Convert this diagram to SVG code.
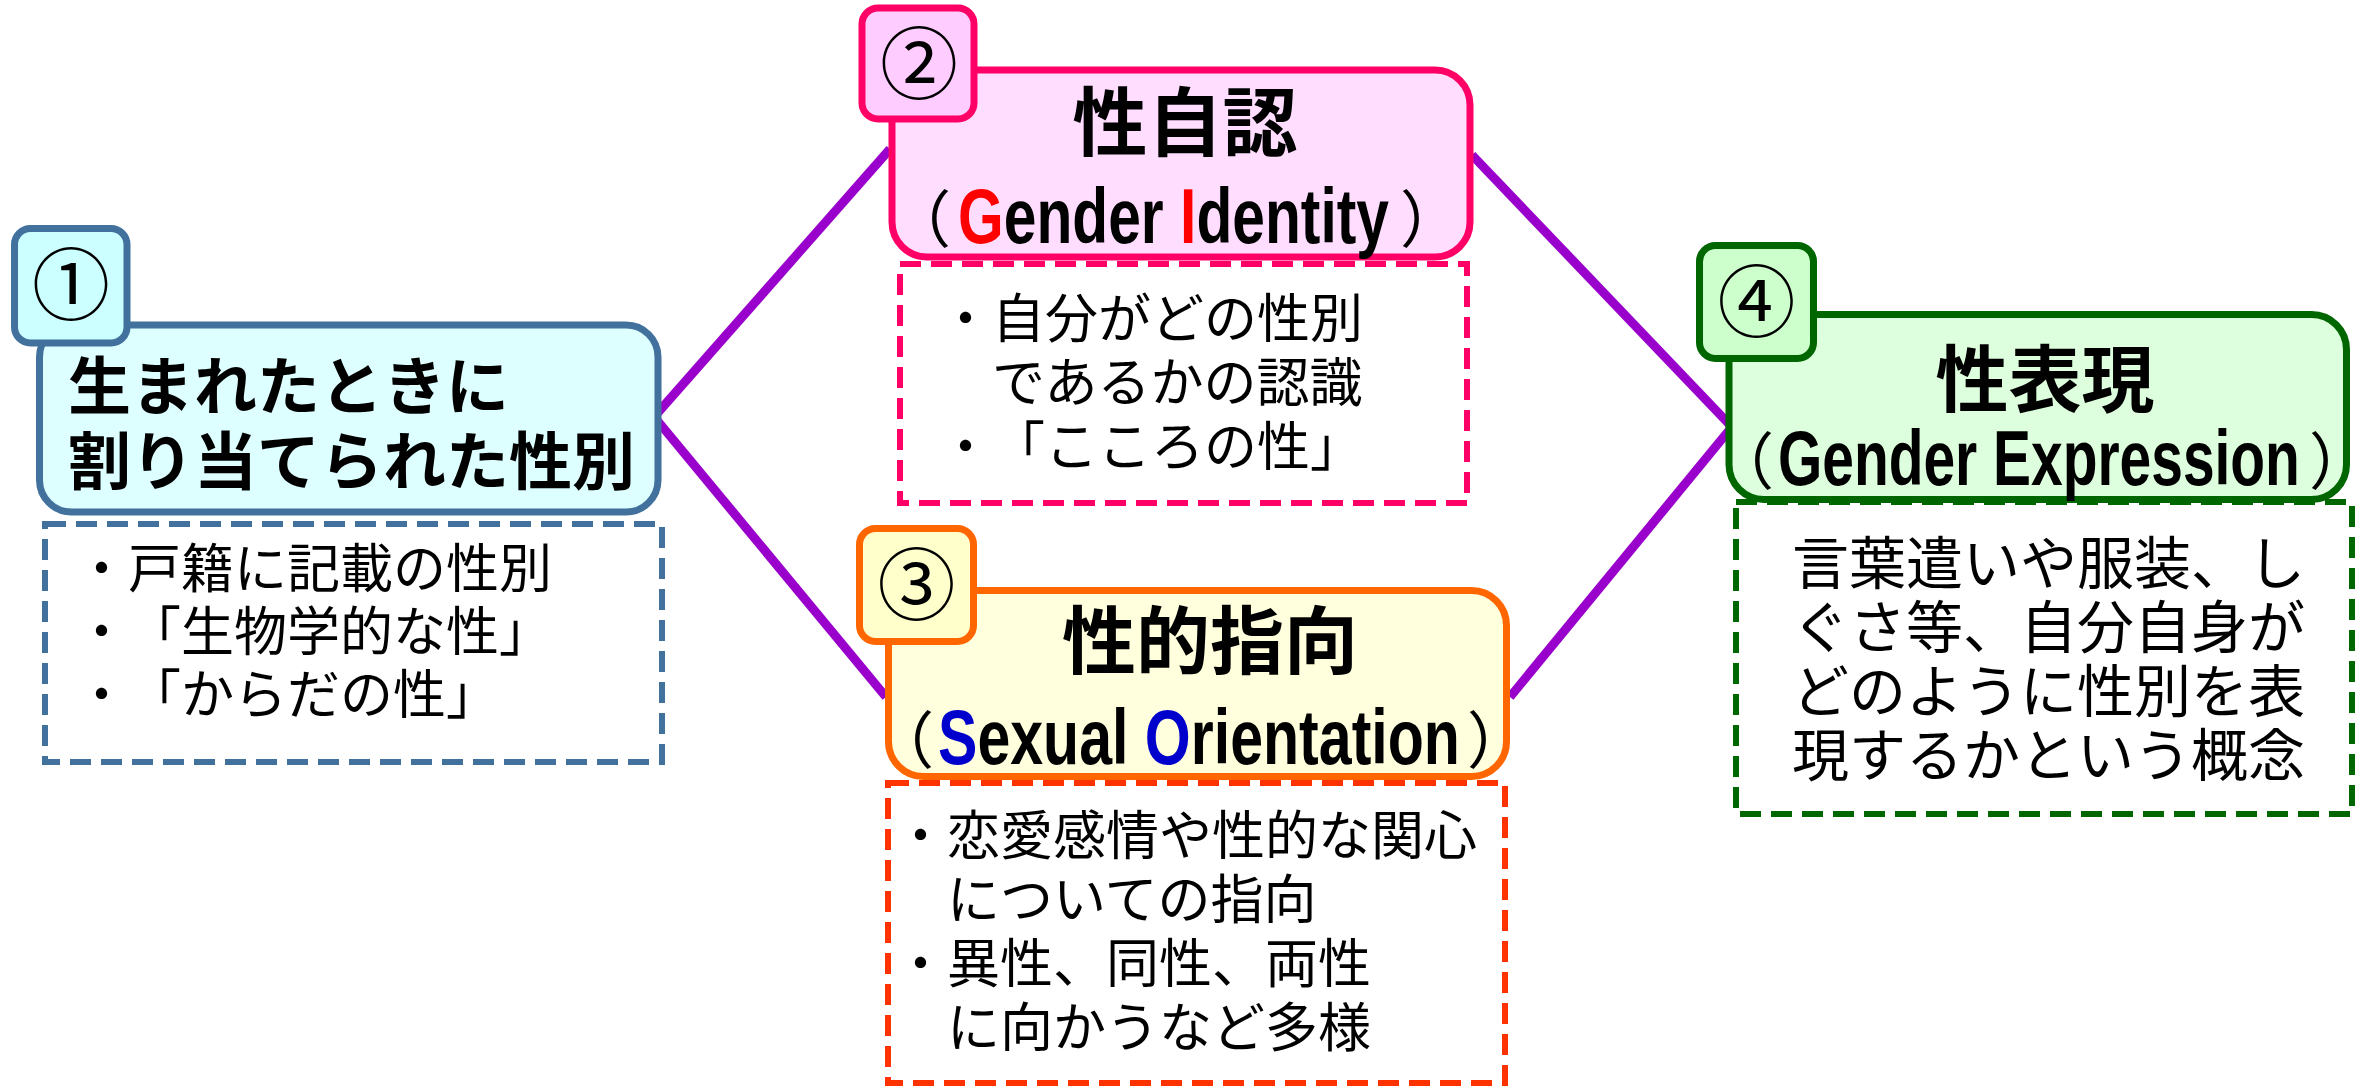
<svg xmlns="http://www.w3.org/2000/svg" width="2372" height="1089" viewBox="0 0 2372 1089">
<style>
text{text-spacing-trim:space-all}
.conn{stroke:#9900CC;stroke-width:9;fill:none;stroke-linecap:butt}
.t{font-family:"Noto Sans CJK JP","Noto Sans CJK SC",sans-serif;fill:#000}
.ttl{font-weight:700}
.body{font-size:53px}
.num{font-size:78px}
.lat{font-family:"Liberation Sans",sans-serif;font-weight:700;font-size:78px;fill:#000}
.par{font-size:62px}
.dash{fill:none;stroke-width:6;stroke-dasharray:21 10}
.box{stroke-width:7}
</style>
<rect width="2372" height="1089" fill="#FFFFFF"/>
<g id="connectors">
<line class="conn" x1="654" y1="417" x2="890" y2="149"/>
<line class="conn" x1="656" y1="419" x2="886" y2="697"/>
<line class="conn" x1="1472" y1="155" x2="1730" y2="425"/>
<line class="conn" x1="1510" y1="697" x2="1731" y2="428"/>
</g>
<g id="node1">
<rect class="dash" x="45" y="524" width="617" height="238" stroke="#41719C"/>
<rect class="box" x="39.5" y="325" width="618.5" height="187" rx="32" fill="#DDFFFF" stroke="#41719C"/>
<rect class="box" x="14.5" y="228.5" width="112.5" height="114.5" rx="16" fill="#CCFFFF" stroke="#41719C"/>
<text class="t num" x="71" y="314" text-anchor="middle">①</text>
<text class="t ttl" font-size="63"><tspan x="68" y="409">生まれたときに</tspan><tspan x="68" y="484">割り当てられた性別</tspan></text>
<text class="t body"><tspan x="75" y="588">・戸籍に記載の性別</tspan><tspan x="75" y="651">・「生物学的な性」</tspan><tspan x="75" y="714">・「からだの性」</tspan></text>
</g>
<g id="node2">
<rect class="dash" x="900" y="264" width="567" height="239" stroke="#FF0066"/>
<rect class="box" x="892" y="70" width="578" height="187" rx="35" fill="#FFDDFF" stroke="#FF0066"/>
<rect class="box" x="862" y="8" width="112" height="111" rx="16" fill="#FFCCFF" stroke="#FF0066"/>
<text class="t num" x="919" y="93" text-anchor="middle">②</text>
<text class="t ttl" x="1185" y="150" font-size="75" text-anchor="middle">性自認</text>
<text class="t par" x="951" y="243" text-anchor="end">（</text>
<text class="lat" x="0" y="0" transform="translate(958 243) scale(0.7534 1)"><tspan fill="#FF0000">G</tspan>ender <tspan fill="#FF0000">I</tspan>dentity</text>
<text class="t par" x="1400" y="243">）</text>
<text class="t body"><tspan x="939" y="338">・自分がどの性別</tspan><tspan x="992" y="402">であるかの認識</tspan><tspan x="939" y="466">・「こころの性」</tspan></text>
</g>
<g id="node3">
<rect class="dash" x="888" y="783" width="617" height="300" stroke="#FF3300"/>
<rect class="box" x="888.5" y="590.5" width="618" height="186" rx="35" fill="#FFFFDD" stroke="#FF6600"/>
<rect class="box" x="859.5" y="528.5" width="114" height="113" rx="16" fill="#FFFFCC" stroke="#FF6600"/>
<text class="t num" x="916.5" y="614" text-anchor="middle">③</text>
<text class="t ttl" x="1210" y="668" font-size="74" text-anchor="middle">性的指向</text>
<text class="t par" x="934" y="764" text-anchor="end">（</text>
<text class="lat" x="0" y="0" transform="translate(938 764) scale(0.7574 1)"><tspan fill="#0000CC">S</tspan>exual <tspan fill="#0000CC">O</tspan>rientation</text>
<text class="t par" x="1467" y="764">）</text>
<text class="t body"><tspan x="894" y="855">・恋愛感情や性的な関心</tspan><tspan x="947" y="919">についての指向</tspan><tspan x="894" y="983">・異性、同性、両性</tspan><tspan x="947" y="1047">に向かうなど多様</tspan></text>
</g>
<g id="node4">
<rect class="dash" x="1736" y="502" width="616" height="312" stroke="#006600"/>
<rect class="box" x="1729" y="314.5" width="617.5" height="185" rx="35" fill="#DDFFDD" stroke="#006600"/>
<rect class="box" x="1699.5" y="245.5" width="114" height="113" rx="16" fill="#CCFFCC" stroke="#006600"/>
<text class="t num" x="1756.5" y="331" text-anchor="middle">④</text>
<text class="t ttl" x="2045" y="406" font-size="73" text-anchor="middle">性表現</text>
<text class="t par" x="1774" y="485" text-anchor="end">（</text>
<text class="lat" x="0" y="0" transform="translate(1778 485) scale(0.7298 1)">Gender Expression</text>
<text class="t par" x="2309" y="485">）</text>
<text class="t" font-size="57"><tspan x="1792" y="584">言葉遣いや服装、し</tspan><tspan x="1792" y="648">ぐさ等、自分自身が</tspan><tspan x="1792" y="712">どのように性別を表</tspan><tspan x="1792" y="776">現するかという概念</tspan></text>
</g>
</svg>
